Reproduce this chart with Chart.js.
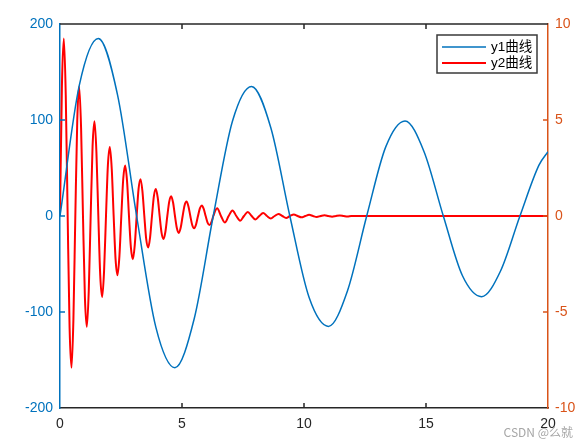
<!DOCTYPE html>
<html>
<head>
<meta charset="utf-8">
<script src="https://cdn.jsdelivr.net/npm/chart.js@4/dist/chart.umd.min.js"></script>
<style>
  html, body { margin: 0; padding: 0; background: #fff; }
  #chart { display: block; }
</style>
</head>
<body>
<canvas id="chart" width="587" height="447"></canvas>
<script>
// y1: slow damped wave (left axis)
const y1X = [0, 0.79, 1.57, 2.36, 3.14, 3.93, 4.71, 5.5, 6.28, 7.07, 7.85, 8.64, 9.42,
  10.21, 11, 11.78, 12.57, 13.35, 14.14, 14.92, 15.71, 16.49, 17.28, 18.06, 18.85, 19.63, 20];
const y1Values = [0, 136, 185, 126, 0, -116, -158, -107, 0, 99, 135, 92, 0,
  -85, -115, -78, 0, 72, 99, 67, 0, -62, -84, -57, 0, 53, 67];

// y2: fast damped wave (right axis)
const y2X = [0, 0.079, 0.157, 0.236, 0.314, 0.393, 0.471, 0.55, 0.628, 0.707,
  0.785, 0.864, 0.942, 1.021, 1.1, 1.178, 1.257, 1.335, 1.414, 1.492,
  1.571, 1.649, 1.728, 1.806, 1.885, 1.963, 2.042, 2.121, 2.199, 2.278,
  2.356, 2.435, 2.513, 2.592, 2.67, 2.749, 2.827, 2.906, 2.985, 3.063,
  3.142, 3.22, 3.299, 3.377, 3.456, 3.534, 3.613, 3.691, 3.77, 3.848,
  3.927, 4.006, 4.084, 4.163, 4.241, 4.32, 4.398, 4.477, 4.555, 4.634,
  4.712, 4.791, 4.869, 4.948, 5.027, 5.105, 5.184, 5.262, 5.341, 5.419,
  5.498, 5.576, 5.655, 5.733, 5.812, 5.89, 5.969, 6.048, 6.126, 6.205, 6.283,
  6.44, 6.597, 6.754, 6.912, 7.069, 7.226, 7.383, 7.54, 7.697, 7.854,
  8.011, 8.168, 8.325, 8.482, 8.639, 8.796, 8.954, 9.111, 9.268, 9.425,
  9.582, 9.739, 9.896, 10.053, 10.21, 10.367, 10.524, 10.681, 10.838, 10.996,
  11.152, 11.31, 11.467, 11.624, 11.781, 11.938, 20];
const y2Values = [0, 6.8, 9.24, 6.29, 0, -5.81, -7.9, -5.37, 0, 4.97,
  6.75, 4.59, 0, -4.24, -5.77, -3.92, 0, 3.63, 4.93, 3.35,
  0, -3.1, -4.22, -2.87, 0, 2.65, 3.6, 2.45, 0, -2.26,
  -3.08, -2.09, 0, 1.94, 2.63, 1.79, 0, -1.65, -2.25, -1.53,
  0, 1.41, 1.92, 1.31, 0, -1.21, -1.64, -1.12, 0, 1.03,
  1.4, 0.95, 0, -0.88, -1.2, -0.82, 0, 0.75, 1.03, 0.7,
  0, -0.64, -0.88, -0.6, 0, 0.55, 0.75, 0.51, 0, -0.47,
  -0.64, -0.44, 0, 0.4, 0.55, 0.37, 0, -0.34, -0.47, -0.32, 0,
  0.4, 0, -0.34, 0, 0.29, 0, -0.25, 0, 0.21, 0,
  -0.18, 0, 0.16, 0, -0.13, 0, 0.11, 0, -0.1, 0,
  0.08, 0, -0.07, 0, 0.06, 0, -0.05, 0, 0.04, 0,
  -0.04, 0, 0.03, 0, -0.03, 0, 0];

const seriesLabels = ['y1曲线', 'y2曲线'];
const xTicks = [0, 5, 10, 15, 20];
const y1Ticks = [-200, -100, 0, 100, 200];
const y2Ticks = [-10, -5, 0, 5, 10];

const BLUE = '#0072BD';
const ORANGE = '#D95319';
const RED = '#FF0000';
const DARK = '#262626';
const FONT = '"Liberation Sans", Arial, "Noto Sans CJK SC", sans-serif';

function toPoints(xs, ys) {
  return xs.map((x, i) => ({ x: x, y: ys[i] }));
}

// Box edge, inward tick marks, legend and watermark
const axesDecor = {
  id: 'axesDecor',
  afterDraw(chart) {
    const { ctx, chartArea: a, scales } = chart;
    const len = 5;
    ctx.save();
    ctx.lineWidth = 1.5;

    // top edge of the box
    ctx.strokeStyle = DARK;
    ctx.beginPath();
    ctx.moveTo(a.left, a.top);
    ctx.lineTo(a.right, a.top);
    ctx.stroke();

    // x ticks, bottom and top, pointing inside
    xTicks.slice(1, -1).forEach(v => {
      const px = scales.x.getPixelForValue(v);
      ctx.beginPath();
      ctx.moveTo(px, a.bottom);
      ctx.lineTo(px, a.bottom - len);
      ctx.moveTo(px, a.top);
      ctx.lineTo(px, a.top + len);
      ctx.stroke();
    });

    ctx.strokeStyle = BLUE;
    y1Ticks.slice(1, -1).forEach(v => {
      const py = scales.y.getPixelForValue(v);
      ctx.beginPath();
      ctx.moveTo(a.left, py);
      ctx.lineTo(a.left + len, py);
      ctx.stroke();
    });

    ctx.strokeStyle = ORANGE;
    y2Ticks.slice(1, -1).forEach(v => {
      const py = scales.y2.getPixelForValue(v);
      ctx.beginPath();
      ctx.moveTo(a.right, py);
      ctx.lineTo(a.right - len, py);
      ctx.stroke();
    });

    // legend box in the upper right corner
    const bw = 100, bh = 38;
    const bx = a.right - 11 - bw, by = a.top + 11;
    ctx.fillStyle = '#fff';
    ctx.fillRect(bx, by, bw, bh);
    ctx.lineWidth = 1.5;
    ctx.strokeStyle = '#3a3a3a';
    ctx.strokeRect(bx, by, bw, bh);

    ctx.font = '13.5px ' + FONT;
    ctx.textBaseline = 'middle';
    ctx.textAlign = 'left';
    chart.data.datasets.forEach((ds, i) => {
      const ly = by + 12 + i * 16;
      ctx.strokeStyle = ds.borderColor;
      ctx.lineWidth = ds.borderWidth;
      ctx.beginPath();
      ctx.moveTo(bx + 5, ly);
      ctx.lineTo(bx + 49, ly);
      ctx.stroke();
      ctx.fillStyle = '#000';
      ctx.fillText(ds.label, bx + 54, ly);
    });

    // watermark
    ctx.font = '12px "Noto Sans CJK SC", ' + FONT;
    ctx.fillStyle = '#a6a6a6';
    ctx.textAlign = 'right';
    ctx.fillText('CSDN @么就', 573, 432);
    ctx.restore();
  }
};

const ctx = document.getElementById('chart').getContext('2d');
new Chart(ctx, {
  type: 'line',
  data: {
    datasets: [
      {
        label: seriesLabels[0],
        data: toPoints(y1X, y1Values),
        yAxisID: 'y',
        borderColor: BLUE,
        borderWidth: 1.5,
        pointRadius: 0,
        fill: false,
        cubicInterpolationMode: 'monotone'
      },
      {
        label: seriesLabels[1],
        data: toPoints(y2X, y2Values),
        yAxisID: 'y2',
        borderColor: RED,
        borderWidth: 2,
        pointRadius: 0,
        fill: false,
        cubicInterpolationMode: 'monotone'
      }
    ]
  },
  options: {
    responsive: false,
    animation: false,
    layout: { padding: { top: 24, left: 0, right: 0, bottom: 0 } },
    plugins: {
      legend: { display: false },
      tooltip: { enabled: false }
    },
    scales: {
      x: {
        type: 'linear',
        min: 0,
        max: 20,
        afterFit: s => { s.height = 39; },
        afterBuildTicks: s => { s.ticks = xTicks.map(v => ({ value: v })); },
        grid: { display: false, drawTicks: false },
        border: { display: true, color: DARK, width: 1.5 },
        ticks: { color: DARK, font: { family: FONT, size: 14 }, padding: 8 }
      },
      y: {
        position: 'left',
        min: -200,
        max: 200,
        afterFit: s => { s.width = 60; },
        afterBuildTicks: s => { s.ticks = y1Ticks.map(v => ({ value: v })); },
        grid: { display: false, drawTicks: false },
        border: { display: true, color: BLUE, width: 1.5 },
        ticks: { color: BLUE, font: { family: FONT, size: 14 }, padding: 7 }
      },
      y2: {
        position: 'right',
        min: -10,
        max: 10,
        afterFit: s => { s.width = 39; },
        afterBuildTicks: s => { s.ticks = y2Ticks.map(v => ({ value: v })); },
        grid: { display: false, drawTicks: false },
        border: { display: true, color: ORANGE, width: 1.5 },
        ticks: { color: ORANGE, font: { family: FONT, size: 14 }, padding: 7 }
      }
    }
  },
  plugins: [axesDecor]
});
</script>
</body>
</html>
